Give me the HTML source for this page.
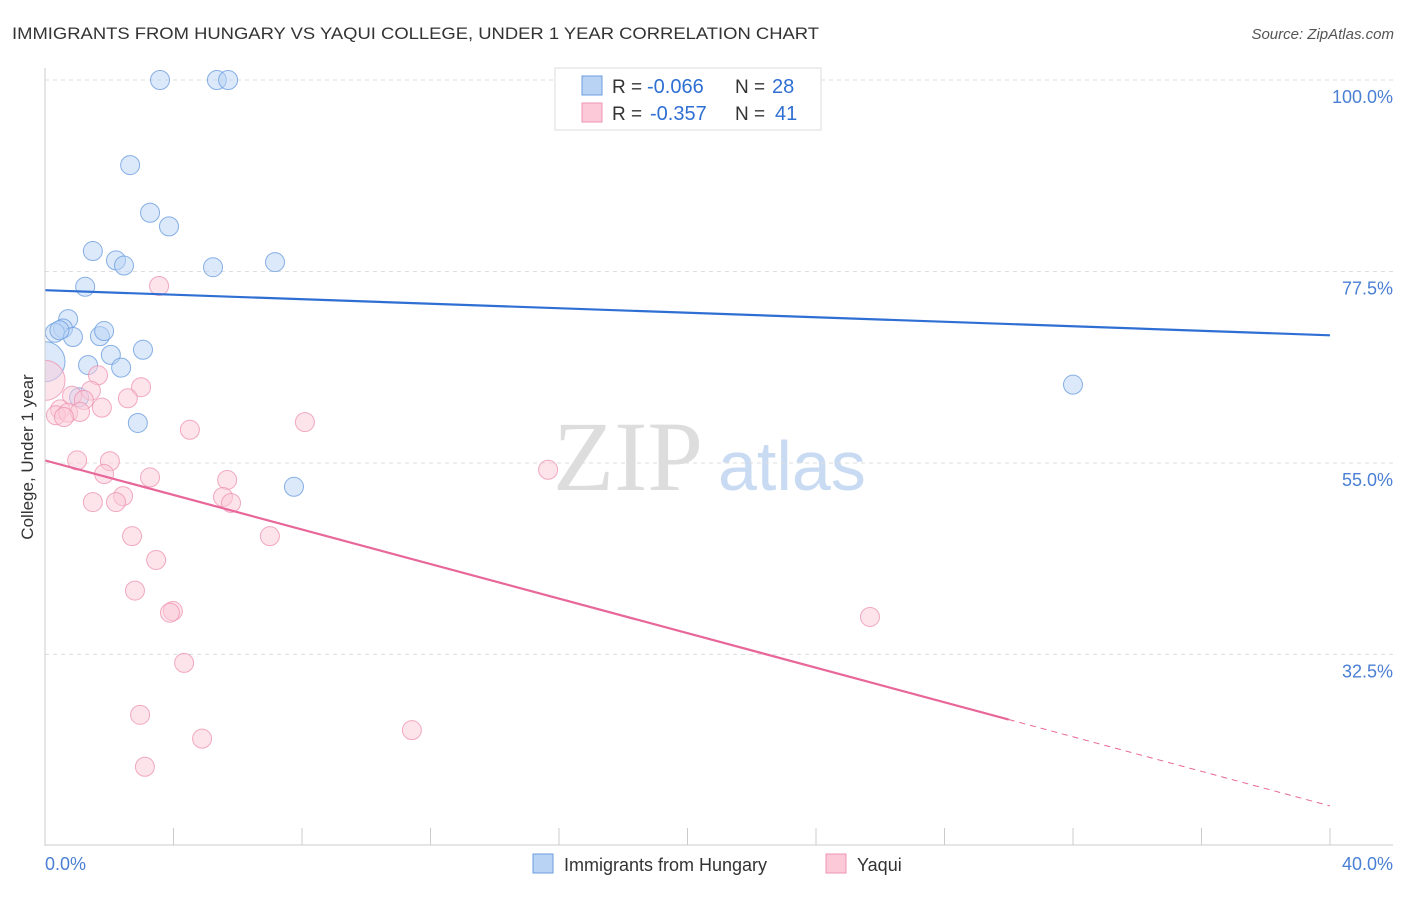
<!DOCTYPE html>
<html><head><meta charset="utf-8"><style>
body{margin:0;background:#fff;font-family:"Liberation Sans",sans-serif;}
</style></head><body>
<svg id="chart" width="1406" height="892" xmlns="http://www.w3.org/2000/svg" font-family="Liberation Sans, sans-serif">
<defs><clipPath id="plotclip"><rect x="45" y="60" width="1360" height="786"/></clipPath></defs>
<text x="12" y="39" font-size="17" fill="#333" textLength="807" lengthAdjust="spacingAndGlyphs">IMMIGRANTS FROM HUNGARY VS YAQUI COLLEGE, UNDER 1 YEAR CORRELATION CHART</text>
<text x="1394" y="39" font-size="15" fill="#555" text-anchor="end" font-style="italic">Source: ZipAtlas.com</text>
<text x="553" y="490" font-size="100" fill="#ddd" font-family="Liberation Serif, serif">ZIP</text>
<text x="718" y="490" font-size="70" fill="#c9dbf2">atlas</text>
<g id="grid"></g>
<g id="marks" clip-path="url(#plotclip)"></g>
<line x1="45" y1="68" x2="45" y2="846" stroke="#ccc"/>
<line x1="45" y1="845" x2="1393" y2="845" stroke="#ccc"/>
<text transform="translate(33,457) rotate(-90)" font-size="17" fill="#333" text-anchor="middle">College, Under 1 year</text>
<text x="45" y="870" font-size="18" fill="#4a7fd4">0.0%</text>
<text x="1393" y="870" font-size="18" fill="#4a7fd4" text-anchor="end">40.0%</text>
<g>
<rect x="555" y="68" width="266" height="62" fill="#fff" stroke="#ddd"/>
<rect x="582" y="76" width="20" height="19" fill="#b9d3f5" stroke="#6b9de0"/>
<rect x="582" y="103" width="20" height="19" fill="#fbc9d8" stroke="#ee95b3"/>
<text x="612" y="93" font-size="19" fill="#333">R =</text>
<text x="647" y="93" font-size="20" fill="#2f6fd3">-0.066</text>
<text x="735" y="93" font-size="19" fill="#333">N =</text>
<text x="772" y="93" font-size="20" fill="#2f6fd3">28</text>
<text x="612" y="120" font-size="19" fill="#333">R =</text>
<text x="650" y="120" font-size="20" fill="#2f6fd3">-0.357</text>
<text x="735" y="120" font-size="19" fill="#333">N =</text>
<text x="775" y="120" font-size="20" fill="#2f6fd3">41</text>
</g>
<g>
<rect x="533" y="854" width="20" height="19" fill="#b9d3f5" stroke="#6b9de0"/>
<text x="564" y="871" font-size="18" fill="#333">Immigrants from Hungary</text>
<rect x="826" y="854" width="20" height="19" fill="#fbc9d8" stroke="#ee95b3"/>
<text x="857" y="871" font-size="18" fill="#333">Yaqui</text>
</g>
</svg>
<script>
const yTicks=[100,77.5,55,32.5];
const yTickLabels=["100.0%","77.5%","55.0%","32.5%"];
const xTicks=[0,4,8,12,16,20,24,28,32,36,40];
const hungaryX=[3.58,5.35,5.70,2.65,3.27,3.86,1.49,2.21,2.46,5.23,7.16,1.25,0.72,0.56,0.31,0.87,1.71,1.84,2.05,1.34,2.37,3.05,0,1.06,2.89,7.75,32.0,0.45];
const hungaryY=[100,100,100,90.0,84.4,82.8,79.9,78.8,78.2,78.0,78.6,75.7,71.9,70.8,70.3,69.8,69.9,70.5,67.7,66.5,66.2,68.3,66.9,62.7,59.7,52.2,64.2,70.6];
const hungaryBig=[22];
const yaquiX=[3.55,0,1.65,1.43,2.99,0.84,1.21,2.58,1.77,0.47,0.34,0.72,1.09,0.59,4.51,8.09,1.0,2.02,1.84,3.27,5.67,5.54,5.79,2.43,2.21,1.49,2.71,7.0,3.46,2.80,3.98,3.89,4.33,2.96,4.89,3.11,11.42,15.66,25.68];
const yaquiY=[75.8,64.7,65.3,63.5,63.9,62.9,62.4,62.6,61.5,61.3,60.6,60.9,61.0,60.4,58.9,59.8,55.3,55.2,53.7,53.3,53.0,51.0,50.3,51.1,50.4,50.4,46.4,46.4,43.6,40.0,37.6,37.4,31.5,25.4,22.6,19.3,23.6,54.2,36.9];
const yaquiBig=[1];
const hungaryTrend=[75.3,70.0];
const yaquiTrend=[55.3,14.7];
const yaquiSolidEnd=30;
const X=v=>45+v/40*1285, Y=v=>80+(100-v)*8.51;
const NS="http://www.w3.org/2000/svg";
function mk(tag,attrs,parent){const e=document.createElementNS(NS,tag);for(const k in attrs)e.setAttribute(k,attrs[k]);parent.appendChild(e);return e;}
const grid=document.getElementById('grid'),marks=document.getElementById('marks');
yTicks.forEach((t,i)=>{
 const l=mk('line',{x1:45,x2:1393,y1:Y(t),y2:Y(t),stroke:'#ddd','stroke-dasharray':'4,4'},grid);
 
 
 const tx=mk('text',{x:1393,y:Y(t)+23,'font-size':18,fill:'#4a7fd4','text-anchor':'end'},grid);
 tx.textContent=yTickLabels[i];
 
 
});
xTicks.forEach(t=>{
 const l=mk('line',{x1:X(t),x2:X(t),y1:828,y2:845,stroke:'#ccc'},grid);
 
 
});
function pts(xs,ys,big,fill,stroke,name){
 xs.forEach((x,i)=>{
  const c=mk('circle',{cx:X(x),cy:Y(ys[i]),r:big.includes(i)?20:9.5,fill:fill,'fill-opacity':0.5,stroke:stroke,'stroke-opacity':0.8,'stroke-width':1},marks);
  
  
 });
}
pts(hungaryX,hungaryY,hungaryBig,'#b9d3f5','#6b9de0','hungary-point');
pts(yaquiX,yaquiY,yaquiBig,'#fbc9d8','#ee95b3','yaqui-point');
const bl=mk('line',{x1:X(0),y1:Y(hungaryTrend[0]),x2:X(40),y2:Y(hungaryTrend[1]),stroke:'#2f6fd3','stroke-width':2.2},marks);


const ym=yaquiTrend[0]+(yaquiTrend[1]-yaquiTrend[0])*yaquiSolidEnd/40;
const pl=mk('line',{x1:X(0),y1:Y(yaquiTrend[0]),x2:X(yaquiSolidEnd),y2:Y(ym),stroke:'#e8679a','stroke-width':2.2},marks);


const pd=mk('line',{x1:X(yaquiSolidEnd),y1:Y(ym),x2:X(40),y2:Y(yaquiTrend[1]),stroke:'#e8679a','stroke-width':1,'stroke-dasharray':'6,5'},marks);


</script>
</body></html>
